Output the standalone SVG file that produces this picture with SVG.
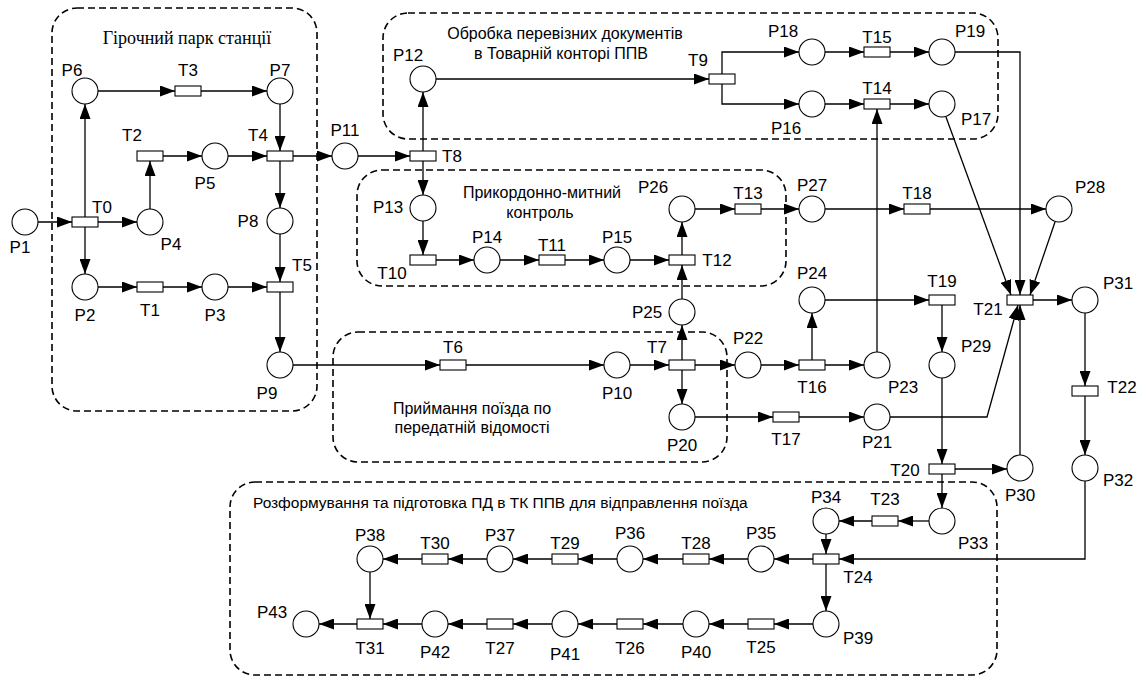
<svg xmlns="http://www.w3.org/2000/svg" width="1145" height="680" viewBox="0 0 1145 680">
<style>
.bg{fill:#fff}
.box{fill:none;stroke:#000;stroke-width:1.6;stroke-dasharray:7 4}
.p circle{fill:#fff;stroke:#000;stroke-width:1.1}
.t rect{fill:#fff;stroke:#000;stroke-width:1.1}
text{font-family:"Liberation Sans",Arial,sans-serif;fill:#000}
.lbl{font-size:17px;text-anchor:middle;dominant-baseline:central}
.gt{font-size:16px;text-anchor:middle;dominant-baseline:central}
.gb{font-size:15.5px;dominant-baseline:central}
.gs{font-family:"Liberation Serif","Times New Roman",serif;font-size:18px;text-anchor:middle;dominant-baseline:central}
#connectors path,#connectors line{fill:none;stroke:#000;stroke-width:1.3;marker-end:url(#ah)}
</style>
<defs>
<marker id="ah" markerUnits="userSpaceOnUse" markerWidth="15" markerHeight="11" refX="15" refY="5.5" orient="auto"><path d="M0,0 L15,5.5 L0,11 z" fill="#000"/></marker>
</defs>
<rect class="bg" x="0" y="0" width="1145" height="680"/>
<g id="groups">
<g id="g-hump"><rect class="box" x="52" y="8" width="265" height="403" rx="25"/><text class="gs" x="187" y="38">Гірочний парк станції</text></g>
<g id="g-docs"><rect class="box" x="383" y="13" width="615" height="126" rx="25"/><text class="gt" x="565" y="33">Обробка перевізних документів</text><text class="gt" x="561" y="53">в Товарній конторі ППВ</text></g>
<g id="g-border"><rect class="box" x="357" y="170" width="429" height="116" rx="25"/><text class="gt" x="542" y="192">Прикордонно-митний</text><text class="gt" x="540" y="212">контроль</text></g>
<g id="g-accept"><rect class="box" x="333" y="332" width="394" height="130" rx="25"/><text class="gt" x="472" y="408">Приймання поїзда по</text><text class="gt" x="472" y="427">передатній відомості</text></g>
<g id="g-dispatch"><rect class="box" x="230" y="482" width="767" height="193" rx="25"/><text class="gb" x="253" y="502">Розформування та підготовка ПД в ТК ППВ для відправлення поїзда</text></g>
</g>
<g id="connectors">
<line x1="38" y1="222" x2="72" y2="222"/>
<line x1="98" y1="222" x2="137" y2="222"/>
<line x1="85" y1="227" x2="85" y2="274"/>
<line x1="85" y1="217" x2="85" y2="104"/>
<line x1="150" y1="209" x2="150" y2="161"/>
<line x1="98" y1="91" x2="175" y2="91"/>
<line x1="201" y1="91" x2="267" y2="91"/>
<line x1="163" y1="156" x2="202" y2="156"/>
<line x1="228" y1="156" x2="267" y2="156"/>
<line x1="280" y1="104" x2="280" y2="151"/>
<line x1="280" y1="161" x2="280" y2="208"/>
<line x1="293" y1="156" x2="332" y2="156"/>
<line x1="98" y1="287" x2="137" y2="287"/>
<line x1="163" y1="287" x2="202" y2="287"/>
<line x1="228" y1="287" x2="267" y2="287"/>
<line x1="280" y1="234" x2="280" y2="282"/>
<line x1="280" y1="292" x2="280" y2="352"/>
<line x1="293" y1="365" x2="440" y2="365"/>
<line x1="466" y1="365" x2="604" y2="365"/>
<line x1="630" y1="365" x2="669" y2="365"/>
<line x1="682" y1="360" x2="682" y2="325"/>
<line x1="682" y1="370" x2="682" y2="404"/>
<line x1="695" y1="365" x2="735" y2="365"/>
<line x1="358" y1="156" x2="410" y2="156"/>
<line x1="423" y1="151" x2="423" y2="92"/>
<line x1="423" y1="161" x2="423" y2="195"/>
<line x1="436" y1="79" x2="709" y2="79"/>
<path d="M722,74 V52 H799"/>
<path d="M722,84 V104 H799"/>
<line x1="825" y1="52" x2="864" y2="52"/>
<line x1="890" y1="52" x2="929" y2="52"/>
<line x1="825" y1="104" x2="864" y2="104"/>
<line x1="890" y1="104" x2="929" y2="104"/>
<path d="M955,52 H1020 V295"/>
<line x1="946" y1="117" x2="1011" y2="295"/>
<line x1="1055" y1="222" x2="1030" y2="295"/>
<line x1="423" y1="221" x2="423" y2="255"/>
<line x1="436" y1="260" x2="474" y2="260"/>
<line x1="500" y1="260" x2="539" y2="260"/>
<line x1="565" y1="260" x2="604" y2="260"/>
<line x1="630" y1="260" x2="669" y2="260"/>
<line x1="682" y1="299" x2="682" y2="265"/>
<line x1="682" y1="255" x2="682" y2="222"/>
<line x1="695" y1="209" x2="735" y2="209"/>
<line x1="761" y1="209" x2="799" y2="209"/>
<line x1="825" y1="209" x2="904" y2="209"/>
<line x1="930" y1="209" x2="1046" y2="209"/>
<line x1="761" y1="365" x2="799" y2="365"/>
<line x1="812" y1="360" x2="812" y2="313"/>
<line x1="825" y1="365" x2="864" y2="365"/>
<line x1="877" y1="352" x2="877" y2="109"/>
<line x1="825" y1="300" x2="929" y2="300"/>
<line x1="942" y1="305" x2="942" y2="352"/>
<line x1="942" y1="378" x2="942" y2="464"/>
<line x1="695" y1="417" x2="773" y2="417"/>
<line x1="799" y1="417" x2="864" y2="417"/>
<path d="M890,417 H987 L1018,305"/>
<line x1="955" y1="469" x2="1007" y2="469"/>
<line x1="1020" y1="455" x2="1020" y2="305"/>
<line x1="1033" y1="300" x2="1072" y2="300"/>
<line x1="1085" y1="313" x2="1085" y2="386"/>
<line x1="1085" y1="396" x2="1085" y2="455"/>
<line x1="942" y1="474" x2="942" y2="508"/>
<line x1="929" y1="521" x2="898" y2="521"/>
<line x1="872" y1="521" x2="839" y2="521"/>
<line x1="826" y1="534" x2="826" y2="554"/>
<path d="M1085,481 V559 H839"/>
<line x1="813" y1="559" x2="774" y2="559"/>
<line x1="826" y1="564" x2="826" y2="611"/>
<line x1="748" y1="559" x2="709" y2="559"/>
<line x1="683" y1="559" x2="643" y2="559"/>
<line x1="617" y1="559" x2="578" y2="559"/>
<line x1="552" y1="559" x2="513" y2="559"/>
<line x1="487" y1="559" x2="448" y2="559"/>
<line x1="422" y1="559" x2="383" y2="559"/>
<line x1="370" y1="572" x2="370" y2="619"/>
<line x1="813" y1="624" x2="774" y2="624"/>
<line x1="748" y1="624" x2="709" y2="624"/>
<line x1="683" y1="624" x2="643" y2="624"/>
<line x1="617" y1="624" x2="578" y2="624"/>
<line x1="552" y1="624" x2="513" y2="624"/>
<line x1="487" y1="624" x2="448" y2="624"/>
<line x1="422" y1="624" x2="383" y2="624"/>
<line x1="357" y1="624" x2="319" y2="624"/>
</g>
<g id="P1" class="p"><circle cx="25" cy="222" r="13"/><text class="lbl" x="20" y="247">P1</text></g>
<g id="T0" class="t"><rect x="72" y="217" width="26" height="10"/><text class="lbl" x="102" y="207">T0</text></g>
<g id="P4" class="p"><circle cx="150" cy="222" r="13"/><text class="lbl" x="171" y="244">P4</text></g>
<g id="P2" class="p"><circle cx="85" cy="287" r="13"/><text class="lbl" x="85" y="315">P2</text></g>
<g id="T1" class="t"><rect x="137" y="282" width="26" height="10"/><text class="lbl" x="150" y="310">T1</text></g>
<g id="P3" class="p"><circle cx="215" cy="287" r="13"/><text class="lbl" x="215" y="315">P3</text></g>
<g id="T5" class="t"><rect x="267" y="282" width="26" height="10"/><text class="lbl" x="302" y="265">T5</text></g>
<g id="P8" class="p"><circle cx="280" cy="221" r="13"/><text class="lbl" x="248" y="221">P8</text></g>
<g id="P9" class="p"><circle cx="280" cy="365" r="13"/><text class="lbl" x="267" y="393">P9</text></g>
<g id="P6" class="p"><circle cx="85" cy="91" r="13"/><text class="lbl" x="72" y="70">P6</text></g>
<g id="T3" class="t"><rect x="175" y="86" width="26" height="10"/><text class="lbl" x="188" y="70">T3</text></g>
<g id="P7" class="p"><circle cx="280" cy="91" r="13"/><text class="lbl" x="280" y="70">P7</text></g>
<g id="T2" class="t"><rect x="137" y="151" width="26" height="10"/><text class="lbl" x="132" y="135">T2</text></g>
<g id="P5" class="p"><circle cx="215" cy="156" r="13"/><text class="lbl" x="205" y="183">P5</text></g>
<g id="T4" class="t"><rect x="267" y="151" width="26" height="10"/><text class="lbl" x="258" y="135">T4</text></g>
<g id="P11" class="p"><circle cx="345" cy="156" r="13"/><text class="lbl" x="345" y="130">P11</text></g>
<g id="T8" class="t"><rect x="410" y="151" width="26" height="10"/><text class="lbl" x="452" y="156">T8</text></g>
<g id="P12" class="p"><circle cx="423" cy="79" r="13"/><text class="lbl" x="408" y="55">P12</text></g>
<g id="T9" class="t"><rect x="709" y="74" width="26" height="10"/><text class="lbl" x="698" y="60">T9</text></g>
<g id="P18" class="p"><circle cx="812" cy="52" r="13"/><text class="lbl" x="783" y="31">P18</text></g>
<g id="T15" class="t"><rect x="864" y="47" width="26" height="10"/><text class="lbl" x="877" y="37">T15</text></g>
<g id="P19" class="p"><circle cx="942" cy="52" r="13"/><text class="lbl" x="970" y="31">P19</text></g>
<g id="P16" class="p"><circle cx="812" cy="104" r="13"/><text class="lbl" x="786" y="128">P16</text></g>
<g id="T14" class="t"><rect x="864" y="99" width="26" height="10"/><text class="lbl" x="877" y="88">T14</text></g>
<g id="P17" class="p"><circle cx="942" cy="104" r="13"/><text class="lbl" x="976" y="119">P17</text></g>
<g id="P13" class="p"><circle cx="423" cy="208" r="13"/><text class="lbl" x="388" y="207">P13</text></g>
<g id="T10" class="t"><rect x="410" y="255" width="26" height="10"/><text class="lbl" x="392" y="273">T10</text></g>
<g id="P14" class="p"><circle cx="487" cy="260" r="13"/><text class="lbl" x="487" y="237">P14</text></g>
<g id="T11" class="t"><rect x="539" y="255" width="26" height="10"/><text class="lbl" x="552" y="245">T11</text></g>
<g id="P15" class="p"><circle cx="617" cy="260" r="13"/><text class="lbl" x="617" y="237">P15</text></g>
<g id="T12" class="t"><rect x="669" y="255" width="26" height="10"/><text class="lbl" x="717" y="260">T12</text></g>
<g id="P26" class="p"><circle cx="682" cy="209" r="13"/><text class="lbl" x="653" y="187">P26</text></g>
<g id="T13" class="t"><rect x="735" y="204" width="26" height="10"/><text class="lbl" x="748" y="193">T13</text></g>
<g id="P27" class="p"><circle cx="812" cy="209" r="13"/><text class="lbl" x="812" y="185">P27</text></g>
<g id="T18" class="t"><rect x="904" y="204" width="26" height="10"/><text class="lbl" x="917" y="193">T18</text></g>
<g id="P28" class="p"><circle cx="1059" cy="209" r="13"/><text class="lbl" x="1090" y="187">P28</text></g>
<g id="P25" class="p"><circle cx="682" cy="312" r="13"/><text class="lbl" x="647" y="312">P25</text></g>
<g id="T6" class="t"><rect x="440" y="360" width="26" height="10"/><text class="lbl" x="453" y="347">T6</text></g>
<g id="P10" class="p"><circle cx="617" cy="365" r="13"/><text class="lbl" x="617" y="393">P10</text></g>
<g id="T7" class="t"><rect x="669" y="360" width="26" height="10"/><text class="lbl" x="657" y="347">T7</text></g>
<g id="P20" class="p"><circle cx="682" cy="417" r="13"/><text class="lbl" x="682" y="445">P20</text></g>
<g id="P22" class="p"><circle cx="748" cy="365" r="13"/><text class="lbl" x="748" y="338">P22</text></g>
<g id="T16" class="t"><rect x="799" y="360" width="26" height="10"/><text class="lbl" x="812" y="387">T16</text></g>
<g id="P23" class="p"><circle cx="877" cy="365" r="13"/><text class="lbl" x="903" y="387">P23</text></g>
<g id="P24" class="p"><circle cx="812" cy="300" r="13"/><text class="lbl" x="812" y="273">P24</text></g>
<g id="T19" class="t"><rect x="929" y="295" width="26" height="10"/><text class="lbl" x="942" y="281">T19</text></g>
<g id="P29" class="p"><circle cx="942" cy="365" r="13"/><text class="lbl" x="976" y="346">P29</text></g>
<g id="T17" class="t"><rect x="773" y="412" width="26" height="10"/><text class="lbl" x="786" y="439">T17</text></g>
<g id="P21" class="p"><circle cx="877" cy="417" r="13"/><text class="lbl" x="877" y="442">P21</text></g>
<g id="T21" class="t"><rect x="1007" y="295" width="26" height="10"/><text class="lbl" x="988" y="309">T21</text></g>
<g id="P31" class="p"><circle cx="1085" cy="300" r="13"/><text class="lbl" x="1118" y="283">P31</text></g>
<g id="T22" class="t"><rect x="1072" y="386" width="26" height="10"/><text class="lbl" x="1122" y="387">T22</text></g>
<g id="P32" class="p"><circle cx="1085" cy="468" r="13"/><text class="lbl" x="1118" y="480">P32</text></g>
<g id="T20" class="t"><rect x="929" y="464" width="26" height="10"/><text class="lbl" x="905" y="470">T20</text></g>
<g id="P30" class="p"><circle cx="1020" cy="468" r="13"/><text class="lbl" x="1020" y="495">P30</text></g>
<g id="P33" class="p"><circle cx="942" cy="521" r="13"/><text class="lbl" x="973" y="543">P33</text></g>
<g id="T23" class="t"><rect x="872" y="516" width="26" height="10"/><text class="lbl" x="885" y="499">T23</text></g>
<g id="P34" class="p"><circle cx="826" cy="521" r="13"/><text class="lbl" x="826" y="497">P34</text></g>
<g id="T24" class="t"><rect x="813" y="554" width="26" height="10"/><text class="lbl" x="858" y="577">T24</text></g>
<g id="P35" class="p"><circle cx="761" cy="559" r="13"/><text class="lbl" x="761" y="533">P35</text></g>
<g id="T28" class="t"><rect x="683" y="554" width="26" height="10"/><text class="lbl" x="696" y="543">T28</text></g>
<g id="P36" class="p"><circle cx="630" cy="559" r="13"/><text class="lbl" x="630" y="533">P36</text></g>
<g id="T29" class="t"><rect x="552" y="554" width="26" height="10"/><text class="lbl" x="565" y="543">T29</text></g>
<g id="P37" class="p"><circle cx="500" cy="559" r="13"/><text class="lbl" x="500" y="535">P37</text></g>
<g id="T30" class="t"><rect x="422" y="554" width="26" height="10"/><text class="lbl" x="435" y="543">T30</text></g>
<g id="P38" class="p"><circle cx="370" cy="559" r="13"/><text class="lbl" x="370" y="535">P38</text></g>
<g id="P39" class="p"><circle cx="826" cy="624" r="13"/><text class="lbl" x="858" y="638">P39</text></g>
<g id="T25" class="t"><rect x="748" y="619" width="26" height="10"/><text class="lbl" x="761" y="647">T25</text></g>
<g id="P40" class="p"><circle cx="696" cy="624" r="13"/><text class="lbl" x="696" y="652">P40</text></g>
<g id="T26" class="t"><rect x="617" y="619" width="26" height="10"/><text class="lbl" x="630" y="648">T26</text></g>
<g id="P41" class="p"><circle cx="565" cy="624" r="13"/><text class="lbl" x="565" y="654">P41</text></g>
<g id="T27" class="t"><rect x="487" y="619" width="26" height="10"/><text class="lbl" x="500" y="648">T27</text></g>
<g id="P42" class="p"><circle cx="435" cy="624" r="13"/><text class="lbl" x="435" y="652">P42</text></g>
<g id="T31" class="t"><rect x="357" y="619" width="26" height="10"/><text class="lbl" x="370" y="648">T31</text></g>
<g id="P43" class="p"><circle cx="306" cy="624" r="13"/><text class="lbl" x="272" y="612">P43</text></g>
</svg>
